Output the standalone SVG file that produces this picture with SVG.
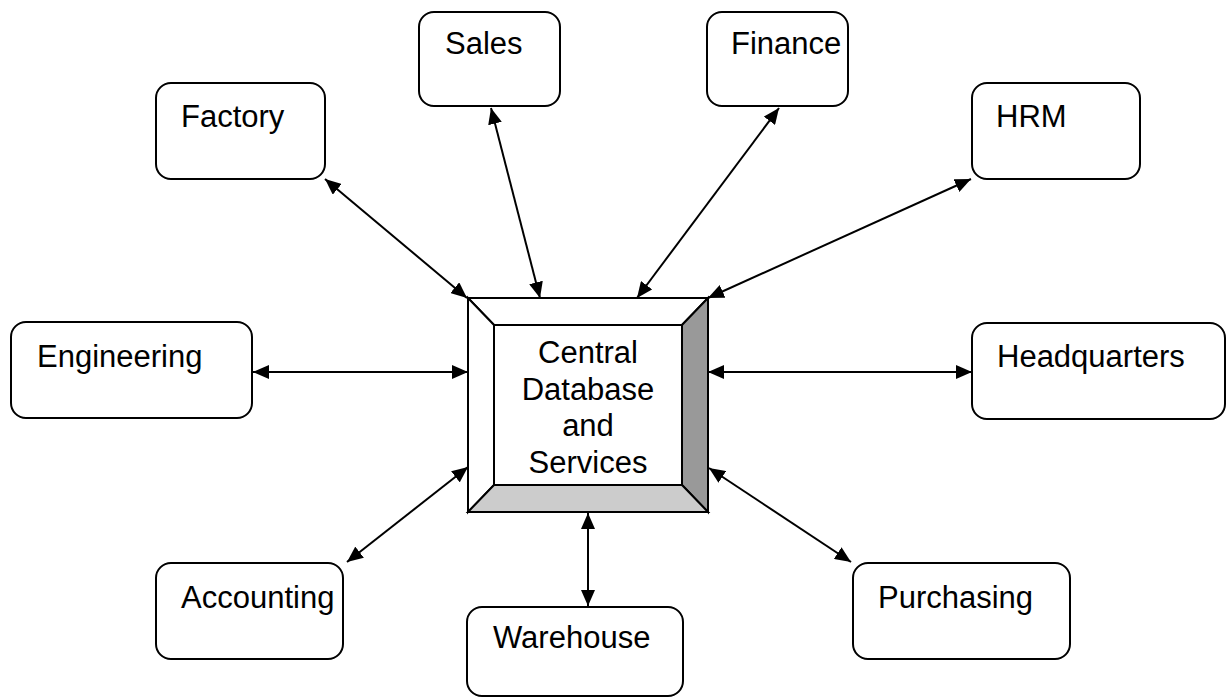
<svg xmlns="http://www.w3.org/2000/svg" width="1226" height="698" viewBox="0 0 1226 698">
  <style>
    .node rect { fill: #fff; stroke: #000; stroke-width: 2; }
    .label { font-family: "Liberation Sans", Arial, sans-serif; font-size: 31px; fill: #000; }
    .bevel { stroke: #000; stroke-width: 2; stroke-linejoin: miter; }
    .conn line { stroke: #000; stroke-width: 2; marker-start: url(#head); marker-end: url(#head); }
  </style>
  <defs>
    <marker id="head" viewBox="0 0 16 14" refX="16" refY="7" markerWidth="16" markerHeight="14" markerUnits="userSpaceOnUse" orient="auto-start-reverse">
      <path d="M0,0 L16,7 L0,14 z" fill="#000"/>
    </marker>
  </defs>
  <rect width="1226" height="698" fill="#fff"/>

  <!-- connectors between the hub and each department -->
  <g id="connectors" class="conn">
    <line x1="467" y1="298" x2="325" y2="179"/>
    <line x1="540" y1="298" x2="491" y2="108"/>
    <line x1="637" y1="298" x2="779" y2="108"/>
    <line x1="708" y1="298" x2="971" y2="179"/>
    <line x1="468" y1="372" x2="253" y2="372"/>
    <line x1="708" y1="372" x2="972" y2="372"/>
    <line x1="468" y1="467" x2="347" y2="562"/>
    <line x1="709" y1="468" x2="851" y2="562"/>
    <line x1="588" y1="513" x2="588" y2="606"/>
  </g>

  <!-- central hub drawn as a bevelled box -->
  <g id="central">
    <polygon class="bevel" fill="#fff" points="468,298 708,298 682,325 494,325"/>
    <polygon class="bevel" fill="#fff" points="468,298 494,325 494,485 468,512"/>
    <polygon class="bevel" fill="#999" points="708,298 708,512 682,485 682,325"/>
    <polygon class="bevel" fill="#ccc" points="468,512 708,512 682,485 494,485"/>
    <rect class="bevel" fill="#fff" x="494" y="325" width="188" height="160"/>
    <text class="label" text-anchor="middle" x="588" y="363">Central</text>
    <text class="label" text-anchor="middle" x="588" y="399.5">Database</text>
    <text class="label" text-anchor="middle" x="588" y="436">and</text>
    <text class="label" text-anchor="middle" x="588" y="472.5">Services</text>
  </g>

  <g id="factory" class="node">
    <rect x="156" y="83" width="169" height="96" rx="15"/>
    <text class="label" x="181" y="127">Factory</text>
  </g>
  <g id="sales" class="node">
    <rect x="419" y="12" width="141" height="94" rx="15"/>
    <text class="label" x="445" y="54">Sales</text>
  </g>
  <g id="finance" class="node">
    <rect x="707" y="12" width="141" height="94" rx="15"/>
    <text class="label" x="731" y="54">Finance</text>
  </g>
  <g id="hrm" class="node">
    <rect x="972" y="83" width="168" height="96" rx="15"/>
    <text class="label" x="996" y="127">HRM</text>
  </g>
  <g id="engineering" class="node">
    <rect x="11" y="322" width="241" height="96" rx="15"/>
    <text class="label" x="37" y="367">Engineering</text>
  </g>
  <g id="headquarters" class="node">
    <rect x="972" y="323" width="253" height="96" rx="15"/>
    <text class="label" x="997" y="367">Headquarters</text>
  </g>
  <g id="accounting" class="node">
    <rect x="156" y="563" width="187" height="96" rx="15"/>
    <text class="label" x="181" y="608">Accounting</text>
  </g>
  <g id="warehouse" class="node">
    <rect x="467" y="607" width="216" height="89" rx="15"/>
    <text class="label" x="493" y="648">Warehouse</text>
  </g>
  <g id="purchasing" class="node">
    <rect x="853" y="563" width="217" height="96" rx="15"/>
    <text class="label" x="878" y="608">Purchasing</text>
  </g>
</svg>
